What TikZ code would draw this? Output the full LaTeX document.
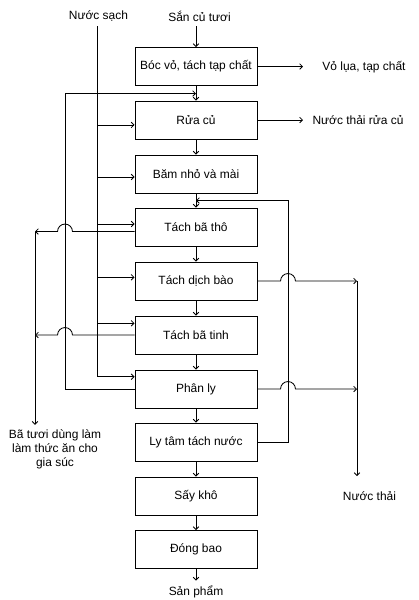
\documentclass[tikz,border=0pt]{standalone}
\usepackage{fontspec}
\setmainfont{Liberation Sans}
\usetikzlibrary{arrows.meta}

\begin{document}
\begin{tikzpicture}[x=0.025cm,y=-0.025cm,
  every node/.style={font=\fontsize{8.5}{9.9}\selectfont},
  proc/.style={draw,line width=0.6pt,minimum width=3.05cm,minimum height=0.95cm,inner sep=0pt},
  arr/.style={line width=0.6pt,-{Straight Barb[length=2pt,width=4pt]}}]
\useasboundingbox (0,0) rectangle (419,600);
% cac cong doan
\node[proc] (b1) at (196,66.5) {Bóc vỏ, tách tạp chất};
\node[proc] (b2) at (196,120) {Rửa củ};
\node[proc] (b3) at (196,174) {Băm nhỏ và mài};
\node[proc] (b4) at (196,227) {Tách bã thô};
\node[proc] (b5) at (196,281) {Tách dịch bào};
\node[proc] (b6) at (196,335) {Tách bã tinh};
\node[proc] (b7) at (196,389) {Phân ly};
\node[proc] (b8) at (196,442) {Ly tâm tách nước};
\node[proc] (b9) at (196,496) {Sấy khô};
\node[proc] (b10) at (196,549.5) {Đóng bao};
% nhan
\node (nuoc) at (98.5,16) {Nước sạch};
\node (sc) at (199.5,16) {Sắn củ tươi};
\node (vo) at (364,67) {Vỏ lụa, tạp chất};
\node (nt2) at (358,120) {Nước thải rửa củ};
\node[align=center] (bt) at (55,449.3) {Bã tươi dùng làm\\làm thức ăn cho\\gia súc};
\node (nt) at (369.5,495.7) {Nước thải};
\node (sp) at (196,591.7) {Sản phẩm};
% toa do phu
\coordinate (ns) at (97,0);
\coordinate (recL) at (65,93.5);
\coordinate (recR) at (288,200.5);
\coordinate (lX) at (35,0);
\coordinate (rX) at (357,0);
\coordinate (outR) at (303,0);
\coordinate (rEnd) at (357,476);
\foreach \i/\s in {2/-3.5,3/-2.1,4/2.1,5/2.6,6/8.3,7/8.7}
  \coordinate (in\i) at ([yshift=\s pt]b\i.west);
\coordinate (o4) at ([yshift=-3.2pt]b4.west);
\coordinate (h4) at (o4 -| recL);
\coordinate (h6) at (b6.west -| recL);
\coordinate (h5) at (b5.east -| recR);
\coordinate (h7) at (b7.east -| recR);
% day chuyen chinh
\draw[arr] (sc.south -| b1.north) -- (b1.north);
\foreach \i/\j in {1/2,2/3,3/4,4/5,5/6,6/7,7/8,8/9,9/10}
  \draw[arr] (b\i.south) -- (b\j.north);
\draw[arr] (b10.south) -- (sp.north);
% nuoc sach
\draw[arr] (nuoc.south -| ns) |- (in7);
\foreach \i in {2,...,6}
  \draw[arr] (ns |- in\i) -- (in\i);
% ra ben phai
\draw[arr] (b1.east) -- (b1.east -| outR);
\draw[arr] (b2.east) -- (b2.east -| outR);
\draw[arr] (b5.east) -- ([xshift=-5.3pt]h5) arc[start angle=180,end angle=0,radius=5.3pt] -- (b5.east -| rX);
\draw[arr] (b7.east) -- ([xshift=-5.3pt]h7) arc[start angle=180,end angle=0,radius=5.3pt] -- (b7.east -| rX);
\draw[arr] (b5.east -| rX) -- (rEnd);
% ra ben trai
\draw[arr] (o4) -- ([xshift=5.3pt]h4) arc[start angle=0,end angle=180,radius=5.3pt] -- (o4 -| lX);
\draw[arr] (b6.west) -- ([xshift=5.3pt]h6) arc[start angle=0,end angle=180,radius=5.3pt] -- (b6.west -| lX);
\draw[arr] (o4 -| lX) -- (lX |- bt.north);
% tuan hoan
\draw[arr] (b7.west) -| (recL) -- (recL -| b1.south);
\draw[arr] (b8.east) -| (recR) -- (recR -| b3.south);
\end{tikzpicture}
\end{document}
